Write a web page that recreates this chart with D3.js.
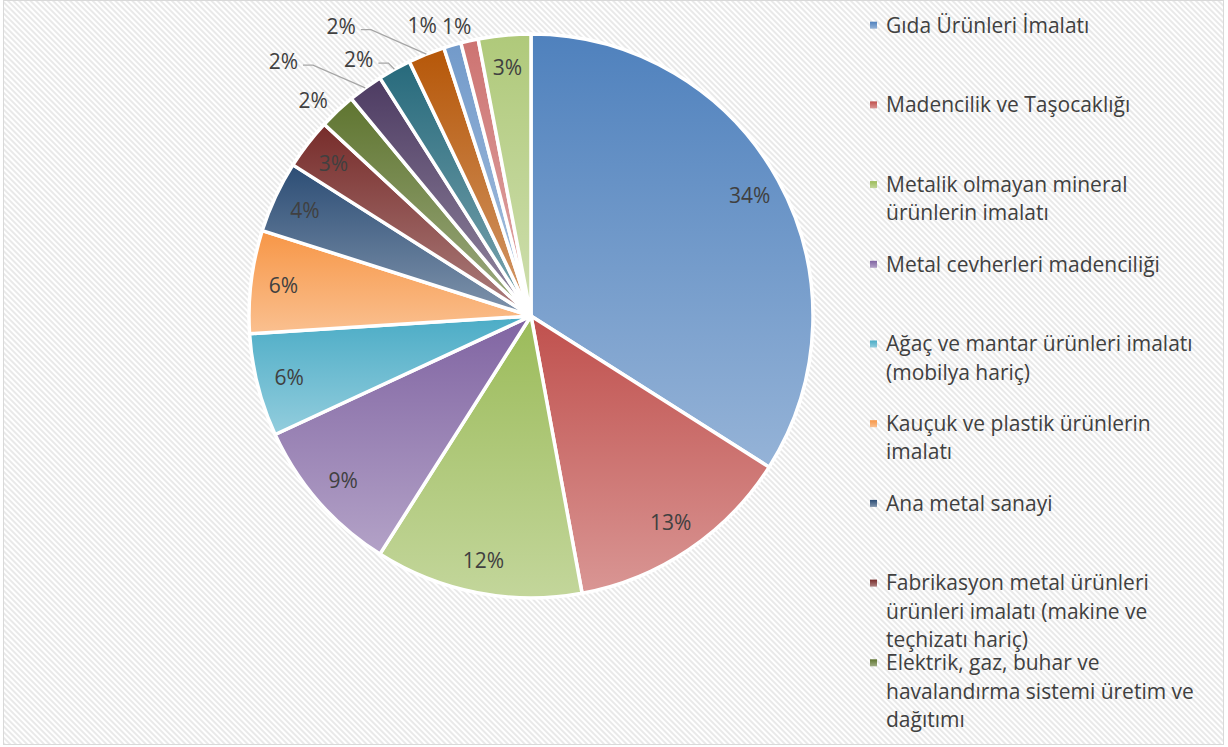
<!DOCTYPE html>
<html lang="tr">
<head>
  <meta charset="UTF-8">
  <title>Sektörlere göre dağılım</title>
  <script src="https://cdn.jsdelivr.net/npm/d3@7"></script>
  <style>
    html, body { margin: 0; padding: 0; background: #fff; }
    svg { display: block; }
    .pct, .legend text {
      font-family: "Open Sans", Lato, sans-serif;
      fill: #404040;
    }
  </style>
</head>
<body>
  <div id="chart"></div>

  <script>
    // sector names (only the first nine fit in the legend box)
    const sectors = [
      'Gıda Ürünleri İmalatı',
      'Madencilik ve Taşocaklığı',
      'Metalik olmayan mineral ürünlerin imalatı',
      'Metal cevherleri madenciliği',
      'Ağaç ve mantar ürünleri imalatı (mobilya hariç)',
      'Kauçuk ve plastik ürünlerin imalatı',
      'Ana metal sanayi',
      'Fabrikasyon metal ürünleri ürünleri imalatı (makine ve teçhizatı hariç)',
      'Elektrik, gaz, buhar ve havalandırma sistemi üretim ve dağıtımı',
      'Kimyasal ürünlerin imalatı',
      'Kağıt ve kağıt ürünlerinin imalatı',
      'Tekstil ürünlerinin imalatı',
      'Motorlu kara taşıtlarının imalatı',
      'İçeceklerin imalatı',
      'Diğer'
    ];

    // share of each sector, percent
    const shares = [34.0, 13.1, 11.9, 9.1, 5.9, 5.9, 4.1, 2.9, 2.1, 2.0, 1.9, 2.1, 1.0, 1.0, 3.0];

    const palette = [
      '#4F81BD', '#C0504D', '#9BBB59', '#8064A2', '#4BACC6', '#F79646',
      '#2C4D75', '#772C2A', '#5F7530', '#4D3B62', '#276A7C', '#B65708',
      '#729ACA', '#CD7371', '#AFC97A'
    ];

    const width = 1228, height = 747;
    const cx = 531, cy = 316, radius = 282;
    const fontSize = 21;

    // small slices get their label outside; some are shifted by hand like Excel did
    const outsideShift = { 8: [-9, 6], 9: [-69, -8], 10: [-25, 10], 11: [-77, -7], 12: [-24, 2], 13: [-8, 7] };
    const withLeader = [9, 10, 11];

    const svg = d3.select('#chart').append('svg')
      .attr('width', width)
      .attr('height', height);

    const defs = svg.append('defs');

    // striped chart background
    const pat = defs.append('pattern')
      .attr('id', 'stripes')
      .attr('patternUnits', 'userSpaceOnUse')
      .attr('width', 4).attr('height', 4)
      .attr('patternTransform', 'rotate(-45)');
    pat.append('rect').attr('width', 4).attr('height', 4).attr('fill', '#ffffff');
    pat.append('rect').attr('width', 2).attr('height', 4).attr('fill', '#e9e9e9');

    // vertical gradient per slice: base colour at top, lighter at bottom
    palette.forEach((c, i) => {
      const g = defs.append('linearGradient')
        .attr('id', 'grad' + i)
        .attr('x1', 0).attr('y1', 0).attr('x2', 0).attr('y2', 1);
      g.append('stop').attr('offset', '0%').attr('stop-color', c);
      g.append('stop').attr('offset', '100%').attr('stop-color', d3.interpolateRgb(c, '#ffffff')(0.4));
    });

    svg.append('rect')
      .attr('x', 3.5).attr('y', 0.5)
      .attr('width', 1220).attr('height', 744)
      .attr('fill', 'url(#stripes)')
      .attr('stroke', '#d9d9d9')
      .attr('stroke-width', 1);

    const pie = d3.pie().sort(null).value(d => d);
    const arcs = pie(shares);

    const arc = d3.arc().innerRadius(0).outerRadius(radius);
    const fmt = d3.format('.0%');

    const g = svg.append('g').attr('transform', `translate(${cx},${cy})`);

    g.selectAll('path.slice')
      .data(arcs)
      .join('path')
      .attr('class', 'slice')
      .attr('d', arc)
      .attr('fill', (d, i) => `url(#grad${i})`)
      .attr('stroke', '#fff')
      .attr('stroke-width', 3.5)
      .attr('stroke-linejoin', 'round');

    const midPoint = (d, r) => {
      const a = (d.startAngle + d.endAngle) / 2;
      return [Math.sin(a) * r, -Math.cos(a) * r];
    };

    const labels = arcs.map((d, i) => {
      const outside = shares[i] < 2.5;
      let p;
      if (outside) {
        p = midPoint(d, radius + 22);
        const s = outsideShift[i] || [0, 0];
        p = [p[0] + s[0], p[1] + s[1]];
      } else {
        p = midPoint(d, radius * 0.885);
      }
      return { i, d, p, outside, text: fmt(shares[i] / 100) };
    });

    const txt = g.selectAll('text.pct')
      .data(labels)
      .join('text')
      .attr('class', 'pct')
      .attr('x', l => l.p[0])
      .attr('y', l => l.p[1])
      .attr('dy', '0.35em')
      .attr('text-anchor', 'middle')
      .attr('font-size', fontSize)
      .text(l => l.text);

    // leader lines for the labels pushed away from their slice
    txt.each(function (l) {
      if (!withLeader.includes(l.i)) return;
      const w = this.getComputedTextLength();
      const x0 = l.p[0] + w / 2 + 5, y0 = l.p[1] + 3;
      const end = midPoint(l.d, radius);
      g.append('path')
        .attr('d', `M${x0},${y0}H${x0 + 10}L${end[0]},${end[1]}`)
        .attr('fill', 'none')
        .attr('stroke', '#a6a6a6')
        .attr('stroke-width', 1.3);
    });

    // legend
    const legend = svg.append('g').attr('class', 'legend');
    const legX = 870, textX = 886, wrapWidth = 318;
    const slotTop = 11, slotStep = 79.7, lineH = 28.4, bottom = 744;

    sectors.forEach((name, i) => {
      const top = slotTop + i * slotStep;
      const item = legend.append('g');
      const t = item.append('text')
        .attr('x', textX)
        .attr('font-size', fontSize);

      // wrap words into lines
      const words = name.split(' ');
      let lines = [], cur = '';
      words.forEach(w => {
        const test = cur ? cur + ' ' + w : w;
        t.text(test);
        if (t.node().getComputedTextLength() > wrapWidth && cur) {
          lines.push(cur);
          cur = w;
        } else {
          cur = test;
        }
      });
      lines.push(cur);
      t.text(null);

      if (top + lines.length * lineH > bottom) {
        item.remove();
        return;
      }

      lines.forEach((ln, k) => {
        t.append('tspan')
          .attr('x', textX)
          .attr('y', top + lineH / 2 + k * lineH)
          .attr('dy', '0.35em')
          .text(ln);
      });

      item.append('rect')
        .attr('x', legX)
        .attr('y', top + lineH / 2 - 3.5)
        .attr('width', 7)
        .attr('height', 7)
        .attr('fill', `url(#grad${i})`);
    });
  </script>
</body>
</html>
